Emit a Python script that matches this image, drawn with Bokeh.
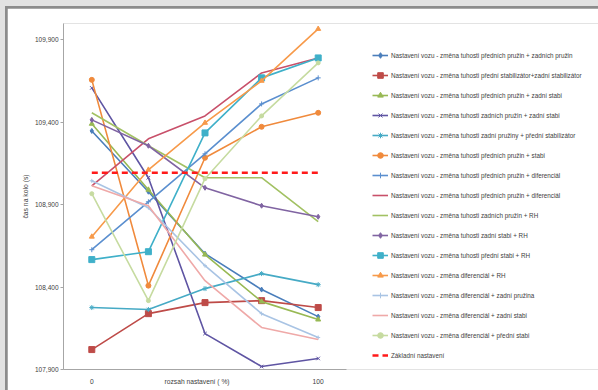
from bokeh.embed import file_html
from bokeh.layouts import column
from bokeh.models import FixedTicker, Legend, LegendItem, Range1d
from bokeh.plotting import figure
from bokeh.resources import INLINE

# setting range (%): five equally spaced steps, only the ends are labelled
steps = [0, 1, 2, 3, 4]
step_labels = ["0", "", "", "", "100"]
x_title = "rozsah nastavení ( %)"

# lap time axis (s), decimal comma
lap_ticks = [107.9, 108.4, 108.9, 109.4, 109.9]
lap_tick_labels = ["107,900", "108,400", "108,900", "109,400", "109,900"]

# lap times per setup change
front_rear_springs = [109.348, 108.979, 108.603, 108.385, 108.221]
front_rear_arb = [108.021, 108.239, 108.306, 108.318, 108.276]
front_springs_rear_arb = [109.391, 108.991, 108.597, 108.312, 108.203]
rear_springs_rear_arb = [109.609, 109.064, 108.118, 107.918, 107.967]
rear_springs_front_arb = [108.276, 108.264, 108.391, 108.482, 108.415]
front_springs_arb = [109.658, 108.409, 109.185, 109.373, 109.458]
front_springs_diff_a = [108.627, 108.918, 109.209, 109.512, 109.670]
front_springs_diff_b = [109.015, 109.300, 109.439, 109.700, 109.791]
rear_springs_rh = [109.458, 109.258, 109.064, 109.064, 108.797]
rear_arb_rh = [109.415, 109.258, 109.003, 108.894, 108.827]
front_arb_rh = [108.567, 108.615, 109.336, 109.670, 109.791]
diff_rh = [108.706, 109.112, 109.397, 109.652, 109.967]
diff_rear_spring = [109.045, 108.882, 108.530, 108.239, 108.094]
diff_rear_arb = [109.015, 108.894, 108.439, 108.155, 108.082]
diff_front_arb = [108.967, 108.318, 109.058, 109.439, 109.761]
baseline = [109.094, 109.094, 109.094, 109.094, 109.094]

series_names = [
    "Nastavení vozu - změna tuhosti předních pružin + zadních pružin",
    "Nastavení vozu - změna tuhosti přední stabilizátor+zadní stabilizátor",
    "Nastavení vozu - změna tuhosti předních pružin + zadní stabi",
    "Nastavení vozu - změna tuhosti zadních pružin + zadní stabi",
    "Nastavení vozu - změna tuhosti zadní pružiny + přední stabilizátor",
    "Nastavení vozu - změna tuhosti předních pružin + stabi",
    "Nastavení vozu - změna tuhosti předních pružin + diferenciál",
    "Nastavení vozu - změna tuhosti předních pružin + diferenciál",
    "Nastavení vozu - změna tuhosti zadních pružin + RH",
    "Nastavení vozu - změna tuhosti zadní stabi + RH",
    "Nastavení vozu - změna tuhosti přední stabi + RH",
    "Nastavení vozu - změna diferenciál + RH",
    "Nastavení vozu - změna diferenciál + zadní pružina",
    "Nastavení vozu - změna diferenciál + zadní stabi",
    "Nastavení vozu - změna diferenciál + přední stabi",
]
baseline_name = "Základní nastavení"

series_values = [
    front_rear_springs, front_rear_arb, front_springs_rear_arb,
    rear_springs_rear_arb, rear_springs_front_arb, front_springs_arb,
    front_springs_diff_a, front_springs_diff_b, rear_springs_rh,
    rear_arb_rh, front_arb_rh, diff_rh, diff_rear_spring,
    diff_rear_arb, diff_front_arb,
]

series_colors = [
    "#4a7ebb", "#be4b48", "#98b954", "#5f55a3", "#46aac5", "#f08a3c",
    "#5b8fcf", "#c8506a", "#a2c163", "#8064a2", "#3fb0c9", "#f79a4a",
    "#a9c4e4", "#efa9a8", "#c6dba0",
]
series_markers = [
    "diamond", "square", "triangle", "x", "asterisk", "circle",
    "cross", None, None, "diamond", "square", "triangle",
    "cross", None, "circle",
]
series_marker_sizes = [5, 6, 5, 5, 5, 5, 5, 0, 0, 5, 6, 5, 4, 0, 4]

FONT = "Liberation Sans"
TEXT = "#404040"
AXIS = "#a6a6a6"

# the plot frame runs to the right edge so the legend can sit inside it;
# the x axis line itself is bounded to the five steps
PX_PER_STEP = 56.6
FRAME_W = 535
X_TITLE_AT = 1.86  # the axis title sits on the label row, left of centre

p = figure(
    width=591, height=382,
    x_range=Range1d(-0.5, -0.5 + FRAME_W / PX_PER_STEP),
    y_range=Range1d(107.9, 110.0),
    output_backend="svg", toolbar_location=None,
    min_border_left=56, min_border_right=0,
    min_border_top=15, min_border_bottom=21,
    background_fill_color="white", border_fill_color="white",
    outline_line_color=None,
)
p.xgrid.visible = False
p.ygrid.visible = False

# y axis
p.yaxis.ticker = FixedTicker(ticks=lap_ticks)
p.yaxis.major_label_overrides = dict(zip(lap_ticks, lap_tick_labels))
p.yaxis.axis_label = "čas na kolo (s)"
p.yaxis.axis_label_text_font = FONT
p.yaxis.axis_label_text_font_size = "6.8px"
p.yaxis.axis_label_text_font_style = "normal"
p.yaxis.axis_label_text_color = TEXT
p.yaxis.axis_label_standoff = 3
p.yaxis.major_label_text_font = FONT
p.yaxis.major_label_text_font_size = "6.5px"
p.yaxis.major_label_text_color = TEXT
p.yaxis.major_label_standoff = 2
p.yaxis.major_tick_out = 3
p.yaxis.major_tick_in = 0
p.yaxis.minor_tick_out = 0
p.yaxis.minor_tick_in = 0
p.yaxis.axis_line_color = AXIS
p.yaxis.major_tick_line_color = AXIS

# x axis: step labels plus the axis title on the same row
x_label_map = dict(zip(steps, step_labels))
x_label_map[X_TITLE_AT] = x_title
p.xaxis.bounds = (-0.5, 4.5)
p.xaxis.ticker = FixedTicker(ticks=steps + [X_TITLE_AT])
p.xaxis.major_label_overrides = x_label_map
p.xaxis.major_label_text_font = FONT
p.xaxis.major_label_text_font_size = "6.7px"
p.xaxis.major_label_text_font_style = "normal"
p.xaxis.major_label_text_color = TEXT
p.xaxis.major_label_standoff = 8
p.xaxis.major_tick_out = 0
p.xaxis.major_tick_in = 0
p.xaxis.minor_tick_out = 0
p.xaxis.minor_tick_in = 0
p.xaxis.axis_line_color = AXIS

items = []
for name, vals, color, marker, msize in zip(
    series_names, series_values, series_colors, series_markers, series_marker_sizes
):
    rs = [p.line(steps, vals, line_color=color, line_width=1.6)]
    if marker is not None:
        rs.append(p.scatter(steps, vals, marker=marker, size=msize,
                            fill_color=color, line_color=color, line_width=1))
    items.append(LegendItem(label=name, renderers=rs))

base = p.line(steps, baseline, line_color="#ff1a1a", line_width=2.6, line_dash="6 4")
items.append(LegendItem(label=baseline_name, renderers=[base]))

legend = Legend(
    items=items,
    location=(309, 7),
    margin=0, padding=0,
    spacing=6, glyph_height=14, label_height=14,
    glyph_width=16, label_standoff=3,
    label_text_font=FONT, label_text_font_size="6.3px",
    label_text_color=TEXT,
    background_fill_alpha=0, border_line_color=None,
)
p.add_layout(legend, "center")

# white sheet with a dark edge on a light grey page
p.margin = (2, 0, 0, 2)
sheet = column(p, margin=(6, 0, 0, 5), styles={"background-color": "#8c8c8c"})
page = column(sheet, styles={"background-color": "#e2e2e2"})

open("out.html", "w").write(file_html(page, INLINE))
